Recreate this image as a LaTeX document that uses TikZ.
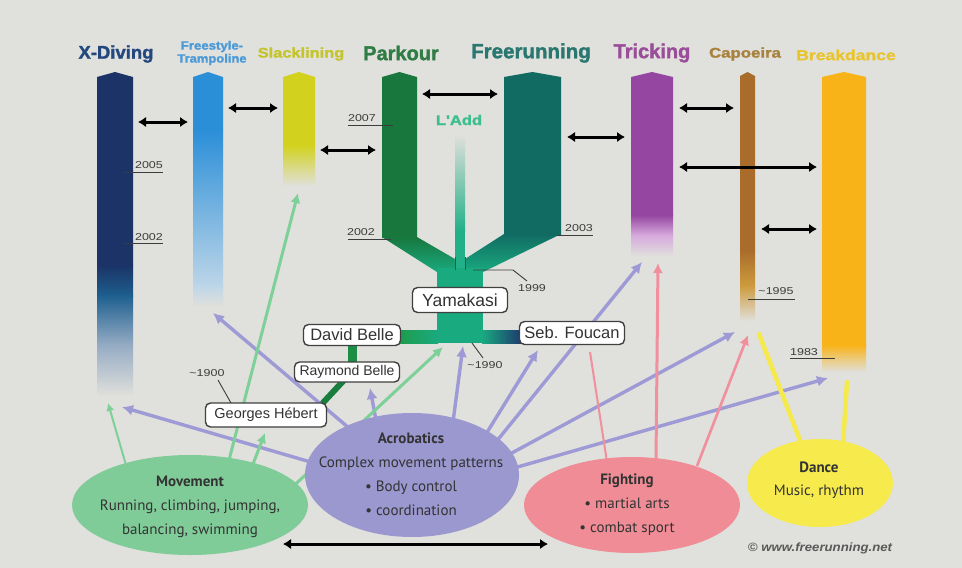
\documentclass[tikz,border=0pt]{standalone}
\usepackage{fontspec}
\usepackage{graphicx}
\setmainfont{PT Sans}
\newfontfamily\arialfont{Liberation Sans}
\newfontfamily\heavyfont{Liberation Sans}[BoldFeatures={FakeBold=1.5}]
\usetikzlibrary{arrows.meta,shapes.geometric}

% page and lane colours
\definecolor{bg}{RGB}{224,224,220}
\definecolor{xdiv}{RGB}{27,51,102}
\definecolor{xdivb}{RGB}{29,95,143}
\definecolor{xdivc}{RGB}{150,172,196}
\definecolor{fst}{RGB}{43,143,216}
\definecolor{fstb}{RGB}{188,213,232}
\definecolor{slk}{RGB}{210,210,30}
\definecolor{pkr}{RGB}{23,119,61}
\definecolor{frr}{RGB}{17,107,98}
\definecolor{trunk}{RGB}{26,170,128}
\definecolor{ladd}{RGB}{34,176,136}
\definecolor{brgreen}{RGB}{30,156,76}
\definecolor{brnavy}{RGB}{29,58,110}
\definecolor{trk}{RGB}{149,70,160}
\definecolor{trkb}{RGB}{215,170,222}
\definecolor{capo}{RGB}{169,108,42}
\definecolor{capob}{RGB}{205,155,60}
\definecolor{brk}{RGB}{248,179,25}
% title colours
\definecolor{txd}{RGB}{35,72,126}
\definecolor{tfs}{RGB}{74,154,216}
\definecolor{tsl}{RGB}{196,196,44}
\definecolor{tpk}{RGB}{47,125,68}
\definecolor{tfr}{RGB}{42,118,112}
\definecolor{ttr}{RGB}{154,77,153}
\definecolor{tcp}{RGB}{168,130,60}
\definecolor{tbd}{RGB}{232,197,48}
\definecolor{tla}{RGB}{60,190,142}
% source ellipses and their links
\definecolor{movc}{RGB}{128,204,152}
\definecolor{acrc}{RGB}{155,151,207}
\definecolor{figc}{RGB}{240,140,150}
\definecolor{danc}{RGB}{246,234,76}
\definecolor{acrl}{RGB}{158,154,214}
\definecolor{movl}{RGB}{125,208,152}
\definecolor{figl}{RGB}{242,143,156}
\definecolor{danl}{RGB}{245,234,74}
\definecolor{ink}{RGB}{51,51,51}
\definecolor{lbl}{RGB}{60,60,60}

\pgfdeclarelayer{bars}
\pgfdeclarelayer{links}
\pgfsetlayers{bars,links,main}

\newcommand\wide[2]{\scalebox{#1}[1]{#2}}
\newcommand\hfnt[1]{\heavyfont\bfseries\fontsize{#1}{#1}\selectfont}
\newcommand\bfnt[1]{\arialfont\fontsize{#1}{#1}\selectfont}

\begin{document}
\begin{tikzpicture}[x=1pt,y=-1pt,
  ttl/.style={inner sep=0pt, anchor=center},
  yr/.style={font=\arialfont\fontsize{10}{10}\selectfont, text=lbl, inner sep=0pt},
  yrline/.style={line width=0.9pt, lbl},
  pbox/.style={draw=black!75, line width=1.4pt, fill=white, rounded corners=5pt,
    text=black!80, inner sep=0pt},
  ell/.style={ellipse, draw=none, inner sep=0pt},
  etxt/.style={font=\fontsize{15}{24}\selectfont, text=ink, align=center, inner sep=0pt},
  dbl/.style={line width=3pt, black,
    {Latex[length=8pt,width=10.5pt]}-{Latex[length=8pt,width=10.5pt]}},
  acr/.style={line width=3.4pt, acrl, -{Latex[length=11pt,width=11pt]}},
  mvl/.style={line width=3pt, movl, -{Latex[length=10pt,width=10pt]}},
  fgl/.style={line width=2.6pt, figl, -{Latex[length=10pt,width=10pt]}},
  dnl/.style={line width=4.5pt, danl, line cap=round},
]
\useasboundingbox (0,0) rectangle (962,568);

% ---------------- lanes ----------------
\begin{pgfonlayer}{bars}
\fill[bg] (0,0) rectangle (962,568);
% X-Diving
\fill[xdiv] (97,77) -- (115,72) -- (133,77) -- (133,266) -- (97,266) -- cycle;
\shade[top color=xdiv, bottom color=xdivb] (97,265) rectangle (133,296);
\shade[top color=xdivb, bottom color=bg, middle color=xdivc] (97,295) rectangle (133,396);
% Freestyle-Trampoline
\fill[fst] (193,77) -- (208,72) -- (223,77) -- (223,131) -- (193,131) -- cycle;
\shade[top color=fst, bottom color=fstb] (193,130) rectangle (223,286);
\shade[top color=fstb, bottom color=bg] (193,285) rectangle (223,306);
% Slacklining
\fill[slk] (283,77) -- (299,72) -- (315,77) -- (315,146) -- (283,146) -- cycle;
\shade[top color=slk, bottom color=bg] (283,145) rectangle (315,186);
% L'Add stem
\shade[top color=bg, bottom color=ladd] (455,135) rectangle (465,231);
\fill[ladd] (455,230) rectangle (465,270);
% Parkour and Freerunning with their branches
\fill[pkr] (382,77) -- (399.5,72) -- (417,77) -- (417,238) -- (382,238) -- cycle;
\shade[top color=pkr, bottom color=trunk]
  (382,237) -- (417,237) -- (455,259) -- (455,272) -- (437,272) -- cycle;
\fill[frr] (504,77) -- (532.5,72) -- (561,77) -- (561,235) -- (504,235) -- cycle;
\shade[top color=frr, bottom color=trunk]
  (504,234) -- (561,234) -- (483,272) -- (465,272) -- (465,259) -- cycle;
% trunk and side branches
\fill[trunk] (437,268) rectangle (483,343);
\shade[left color=brgreen, right color=trunk] (399,330) rectangle (438,343);
\shade[left color=trunk, right color=brnavy] (482,330) rectangle (521,343);
\fill[brgreen!90!black] (348,344) rectangle (357,363);
\draw[line width=6pt, brgreen!80!black] (346,378) -- (320,406);
% Tricking
\fill[trk] (631,77) -- (652,72) -- (673,77) -- (673,216) -- (631,216) -- cycle;
\shade[top color=trk, bottom color=bg, middle color=trkb] (631,215) rectangle (673,256);
% Capoeira
\fill[capo] (740,76) -- (747.5,72) -- (755,76) -- (755,251) -- (740,251) -- cycle;
\shade[top color=capo, bottom color=bg, middle color=capob] (740,250) rectangle (755,321);
% Breakdance
\fill[brk] (822,77) -- (844,72) -- (866,77) -- (866,346) -- (822,346) -- cycle;
\shade[top color=brk, bottom color=bg] (822,345) rectangle (866,372);
% seams of the L'Add stem
\draw[line width=0.8pt, black!70] (455,257) -- (455,270) (465,257) -- (465,270);
\end{pgfonlayer}

% ---------------- connectors ----------------
\begin{pgfonlayer}{links}
% lane-to-lane relations
\coordinate (a1l) at (138,122); \coordinate (a1r) at (188,122);
\coordinate (a2l) at (228,108); \coordinate (a2r) at (278,108);
\coordinate (a3l) at (320,150); \coordinate (a3r) at (376,150);
\coordinate (a4l) at (422,94);  \coordinate (a4r) at (498,94);
\coordinate (a5l) at (567,137); \coordinate (a5r) at (625,137);
\coordinate (a6l) at (679,108); \coordinate (a6r) at (734,108);
\coordinate (a7l) at (679,167); \coordinate (a7r) at (817,167);
\coordinate (a8l) at (761,229); \coordinate (a8r) at (817,229);
\coordinate (a9l) at (283,544); \coordinate (a9r) at (548,544);
\foreach \n in {1,...,9} \draw[dbl] (a\n l) -- (a\n r);

% acrobatics
\coordinate (ac1) at (314,463); \coordinate (ac1e) at (122,407);
\coordinate (ac2) at (349,428); \coordinate (ac2e) at (213,313);
\coordinate (ac3) at (376,420); \coordinate (ac3e) at (370,388);
\coordinate (ac4) at (453,422); \coordinate (ac4e) at (463,346);
\coordinate (ac5) at (486,434); \coordinate (ac5e) at (538,350);
\coordinate (ac6) at (496,442); \coordinate (ac6e) at (642,262);
\coordinate (ac7) at (510,454); \coordinate (ac7e) at (735,332);
\coordinate (ac8) at (514,468); \coordinate (ac8e) at (828,378);
\foreach \n in {1,...,8} \draw[acr] (ac\n) -- (ac\n e);

% movement
\coordinate (mv1) at (128,472); \coordinate (mv1e) at (108,403);
\coordinate (mv2) at (228,464); \coordinate (mv2e) at (298,193);
\coordinate (mv3) at (253,464); \coordinate (mv3e) at (265,433);
\coordinate (mv4) at (287,492); \coordinate (mv4e) at (443,347);
\draw[mvl, line width=2pt, -{Latex[length=8pt,width=8pt]}] (mv1) -- (mv1e);
\foreach \n in {2,3,4} \draw[mvl] (mv\n) -- (mv\n e);

% fighting
\coordinate (fg1) at (607,462); \coordinate (fg1e) at (590,352);
\coordinate (fg2) at (656,460); \coordinate (fg2e) at (658,263);
\coordinate (fg3) at (697,466); \coordinate (fg3e) at (748,335);
\draw[fgl, line width=2pt, -] (fg1) -- (fg1e);
\draw[fgl, line width=3pt] (fg2) -- (fg2e);
\draw[fgl] (fg3) -- (fg3e);

% dance
\coordinate (dn1) at (803,448); \coordinate (dn1e) at (759,334);
\coordinate (dn2) at (843,444); \coordinate (dn2e) at (847,382);
\draw[dnl] (dn1) -- (dn1e);
\draw[dnl] (dn2) -- (dn2e);

% year marks
\draw[yrline] (125,172) -- (163,172);
\draw[yrline] (125,243) -- (163,243);
\draw[yrline] (348,125) -- (393,125);
\draw[yrline] (348,239) -- (391,239);
\draw[yrline] (557,235) -- (593,235);
\draw[yrline] (473,270) -- (513,270) -- (527,281);
\draw[yrline] (472,343) -- (483,358);
\draw[yrline] (218,380) -- (231,403);
\draw[yrline] (748,299) -- (795,299);
\draw[yrline] (790,358) -- (835,358);
\end{pgfonlayer}

% ---------------- lane titles ----------------
\node[ttl, text=txd, font=\hfnt{18.5}] (t-xd) at (116,54) {X-Diving};
\node[ttl, text=tfs, font=\hfnt{12}, align=center] (t-fs) at (212,53)
  {\wide{1.1}{Freestyle-}\\[1pt]\wide{1.08}{Trampoline}};
\node[ttl, text=tsl, font=\hfnt{14}] (t-sl) at (301,54) {\wide{1.17}{Slacklining}};
\node[ttl, text=tpk, font=\hfnt{20}] (t-pk) at (401,53) {Parkour};
\node[ttl, text=tfr, font=\hfnt{20.5}] (t-fr) at (531,53) {Freerunning};
\node[ttl, text=ttr, font=\hfnt{20}] (t-tr) at (652,53) {Tricking};
\node[ttl, text=tcp, font=\hfnt{14}] (t-cp) at (745,54) {\wide{1.2}{Capoeira}};
\node[ttl, text=tbd, font=\hfnt{14.5}] (t-bd) at (846,55) {\wide{1.21}{Breakdance}};
\node[ttl, text=tla, font=\hfnt{14}] (t-la) at (459,120) {\wide{1.18}{L'Add}};

% ---------------- years ----------------
\node[yr] (y2005) at (149,165) {\wide{1.25}{2005}};
\node[yr] (y2002x) at (149,237) {\wide{1.25}{2002}};
\node[yr] (y2007) at (362,118) {\wide{1.25}{2007}};
\node[yr] (y2002p) at (361,232) {\wide{1.25}{2002}};
\node[yr] (y2003) at (579,228) {\wide{1.25}{2003}};
\node[yr] (y1999) at (532,288) {\wide{1.25}{1999}};
\node[yr] (y1990) at (485,365) {\wide{1.25}{\textasciitilde1990}};
\node[yr] (y1900) at (207,373) {\wide{1.25}{\textasciitilde1900}};
\node[yr] (y1995) at (776,291) {\wide{1.25}{\textasciitilde1995}};
\node[yr] (y1983) at (804,352) {\wide{1.25}{1983}};

% ---------------- people and groups ----------------
\node[pbox, minimum width=95pt, minimum height=25pt, font=\bfnt{17.5}] (yam) at (460,300) {Yamakasi};
\node[pbox, minimum width=97pt, minimum height=21pt, font=\bfnt{16.5}] (dbel) at (352,335) {David Belle};
\node[pbox, minimum width=105pt, minimum height=23pt, font=\bfnt{16.5}] (sfou) at (572,333) {Seb. Foucan};
\node[pbox, minimum width=105pt, minimum height=20pt, font=\bfnt{14}] (rbel) at (347,372) {Raymond Belle};
\node[pbox, minimum width=121pt, minimum height=24pt, font=\bfnt{14.5}] (gheb) at (266,415) {Georges Hébert};

% ---------------- sources ----------------
\node[ell, fill=movc, minimum width=236pt, minimum height=100pt] (mov) at (190,505) {};
\node[ell, fill=acrc, minimum width=214pt, minimum height=124pt] (acro) at (412,475) {};
\node[ell, fill=figc, minimum width=216pt, minimum height=96pt] (figh) at (632,505) {};
\node[ell, fill=danc, minimum width=146pt, minimum height=88pt] (danc) at (820,483) {};

\node[etxt] (mov-t) at (190,507)
  {\textbf{Movement}\\Running, climbing, jumping,\\balancing, swimming};
\node[etxt] (acro-t) at (411,474)
  {\textbf{Acrobatics}\\Complex movement patterns\\• Body control\\• coordination};
\node[etxt] (figh-t) at (627,505)
  {\textbf{Fighting}\\• martial arts\\• combat sport};
\node[etxt, font=\fontsize{15}{23}\selectfont] (danc-t) at (819,480)
  {\textbf{Dance}\\Music, rhythm};

\node[font=\arialfont\bfseries\itshape\fontsize{12}{12}\selectfont, text=black!65, inner sep=0pt]
  (copy) at (820,548) {\wide{1.1}{© www.freerunning.net}};
\end{tikzpicture}
\end{document}
